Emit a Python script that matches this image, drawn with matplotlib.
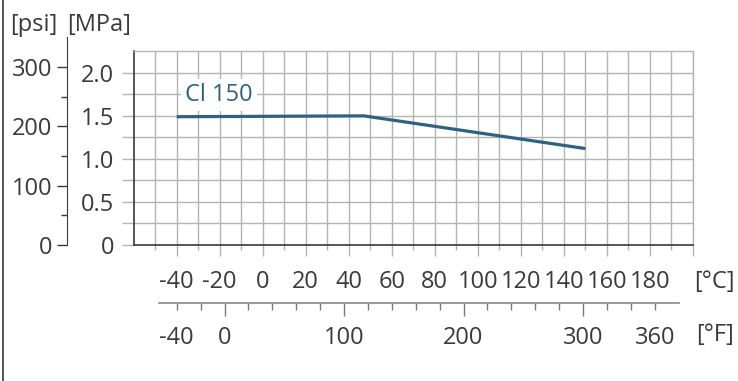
import numpy as np
import matplotlib
matplotlib.use('Agg')
import matplotlib.pyplot as plt
from matplotlib.lines import Line2D

plt.rcParams['font.family'] = ['Open Sans', 'DejaVu Sans']
plt.rcParams['font.size'] = 17

# data
temp_c = [-40, 47, 150]
pressure_mpa = [1.49, 1.50, 1.12]
series_label = 'Cl 150'

c_major = list(range(-40, 201, 20))
c_labels = [str(t) for t in range(-40, 181, 20)] + ['']
c_minor = list(range(-50, 200, 20))
f_ticks = [-40, 0, 100, 200, 300, 360]
f_minor = list(range(-40, 361, 20))
mpa_ticks = [0, 0.25, 0.5, 0.75, 1.0, 1.25, 1.5, 1.75, 2.0]
mpa_labels = ['0', '', '0.5', '', '1.0', '', '1.5', '', '2.0']
psi_major = [0, 100, 200, 300]
psi_minor = [50, 150, 250]

text_col = '#3a3a3a'
grid_col = '#b3b3b3'
axis_col = '#3a3a3a'
line_col = '#2d6282'

W, H = 738, 381
fig = plt.figure(figsize=(W / 100, H / 100), dpi=100)


def fx(px):
    return px / W


def fy(py):
    return 1 - py / H


left, right, top, bottom = 133.7, 693, 51.3, 245
ax = fig.add_axes([fx(left), fy(bottom), (right - left) / W, (bottom - top) / H])
ax.set_xlim(-60, 200)
ax.set_ylim(0, 2.25)

ax.set_xticks(c_major)
ax.set_xticklabels(c_labels)
ax.set_xticks(c_minor, minor=True)
ax.set_yticks(mpa_ticks)
ax.set_yticklabels(mpa_labels)
ax.grid(which='both', color=grid_col, lw=1)
ax.tick_params(axis='x', which='major', length=8, width=1, color=grid_col,
               labelcolor=text_col, pad=10)
ax.tick_params(axis='x', which='minor', length=3.6, width=1, color=grid_col)
ax.tick_params(axis='y', length=9, width=1, color=grid_col, labelcolor=text_col, pad=5)
for s in ['left', 'bottom']:
    ax.spines[s].set_color(axis_col)
    ax.spines[s].set_linewidth(1.2)
for s in ['top', 'right']:
    ax.spines[s].set_color(grid_col)
    ax.spines[s].set_linewidth(1)

ax.plot(temp_c, pressure_mpa, color=line_col, lw=2.3, solid_capstyle='butt', zorder=3)
ax.text(-20.5, 1.74, series_label, color=line_col, ha='center', va='center', zorder=4,
        bbox=dict(facecolor='white', edgecolor='none', pad=3))

# psi axis (same scale as MPa)
psi_top = 350
psi_h = (bottom - top) / H * (psi_top / 145.038) / 2.25
pax = fig.add_axes([fx(66.7), fy(bottom), 0.0005, psi_h])
pax.set_ylim(0, psi_top)
pax.patch.set_visible(False)
for s in ['top', 'right', 'bottom']:
    pax.spines[s].set_visible(False)
pax.spines['left'].set_color(axis_col)
pax.set_xticks([])
pax.set_yticks(psi_major)
pax.set_yticks(psi_minor, minor=True)
pax.tick_params(axis='y', which='major', length=7.2, width=1, color=axis_col,
                labelcolor=text_col, pad=3)
pax.tick_params(axis='y', which='minor', length=4.2, width=1, color=axis_col)

# Fahrenheit scale
fax = fig.add_axes([fx(left), fy(303.3), (right - left) / W, 0.0005])
fax.set_xlim(-60 * 9 / 5 + 32, 200 * 9 / 5 + 32)
fax.patch.set_visible(False)
for s in ['top', 'right', 'left']:
    fax.spines[s].set_visible(False)
fax.spines['bottom'].set_bounds(-55, 380)
fax.spines['bottom'].set_color('#8a8a8a')
fax.spines['bottom'].set_linewidth(1.2)
fax.set_yticks([])
fax.set_xticks(f_ticks)
fax.set_xticklabels([str(t) for t in f_ticks])
fax.set_xticks([t for t in f_minor if t not in f_ticks], minor=True)
fax.tick_params(axis='x', which='major', length=9.5, width=1, color='#7a7a7a',
                labelcolor=text_col, pad=7)
fax.tick_params(axis='x', which='minor', length=5, width=1, color='#7a7a7a')
for t, v in zip(fax.xaxis.get_major_ticks(), f_ticks):
    if v in (-40, 360):
        t.tick1line.set_markersize(5)

fig.text(fx(34), fy(25), '[psi]', ha='center', va='center', color=text_col)
fig.text(fx(99), fy(25), '[MPa]', ha='center', va='center', color=text_col)
fig.text(fx(714), fy(281.7), '[°C]', ha='center', va='center', color=text_col)
fig.text(fx(715), fy(335), '[°F]', ha='center', va='center', color=text_col)

fig.add_artist(Line2D([fx(3), fx(3)], [0, 1], transform=fig.transFigure,
                      color=axis_col, lw=1.2))

fig.savefig('out.png', dpi=100)
